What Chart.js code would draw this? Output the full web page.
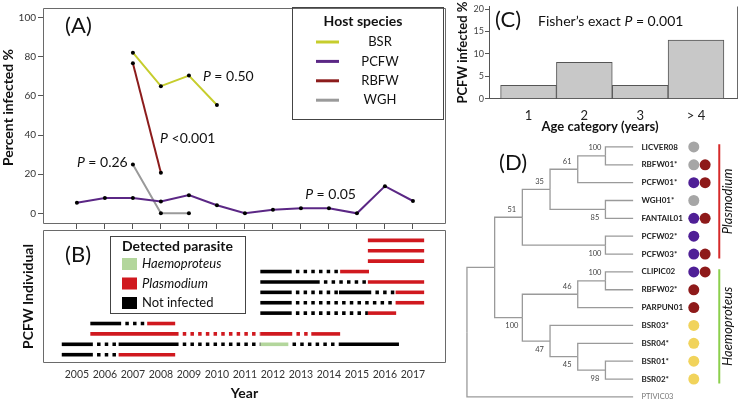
<!DOCTYPE html>
<html lang="en">
<head>
<meta charset="UTF-8">
<title>Parasite prevalence by host</title>
<script src="https://cdn.jsdelivr.net/npm/chart.js"></script>
<style>
  body { margin: 0; background: #fff; }
  #wrap { position: relative; width: 740px; height: 409px; overflow: hidden; background: #fff; }
  #wrap canvas { position: absolute; }
</style>
</head>
<body>
<div id="wrap">
  <canvas id="chartA" width="450" height="232" style="left:0;top:0"></canvas>
  <canvas id="chartB" width="450" height="183" style="left:0;top:226px"></canvas>
  <canvas id="chartC" width="285" height="135" style="left:455px;top:0"></canvas>
  <canvas id="chartD" width="285" height="274" style="left:455px;top:135px"></canvas>
</div>
<script>
// ---------- (A) percent infected per year ----------
const years = [2005, 2006, 2007, 2008, 2009, 2010, 2011, 2012, 2013, 2014, 2015, 2016, 2017];
const pcfwPct = [5.4, 7.8, 7.8, 6.1, 9.3, 4.1, 0, 1.8, 2.6, 2.6, 0, 13.9, 6.3];
const bsrYears = [2007, 2008, 2009, 2010];
const bsrPct = [82.1, 65.0, 70.4, 55.4];
const rbfwYears = [2007, 2008];
const rbfwPct = [76.7, 20.7];
const wghYears = [2007, 2008, 2009];
const wghPct = [25.0, 0, 0];
const pctTicks = [0, 20, 40, 60, 80, 100];

// ---------- (B) PCFW individuals, bottom row first: [from, to, status, sampled] ----------
const bRows = [
  [[2004.46, 2005.57, 'N', 1], [2005.57, 2006.49, 'N', 0], [2006.49, 2008.51, 'P', 1]],
  [[2004.46, 2005.57, 'N', 1], [2005.57, 2006.49, 'N', 0], [2006.49, 2008.63, 'N', 1], [2008.63, 2011.55, 'N', 0],
   [2011.55, 2012.55, 'H', 1], [2012.55, 2014.36, 'N', 0], [2014.36, 2016.5, 'N', 1]],
  [[2005.48, 2008.63, 'P', 1], [2008.63, 2011.55, 'P', 0], [2011.55, 2012.69, 'P', 1], [2012.69, 2013.37, 'P', 0], [2013.37, 2014.4, 'P', 1]],
  [[2005.48, 2006.58, 'N', 1], [2006.58, 2007.51, 'N', 0], [2007.51, 2008.51, 'P', 1]],
  [[2011.55, 2012.67, 'N', 1], [2012.67, 2015.39, 'N', 0], [2015.39, 2016.4, 'P', 1]],
  [[2011.55, 2012.67, 'N', 1], [2012.67, 2016.38, 'N', 0], [2016.38, 2017.4, 'P', 1]],
  [[2011.55, 2012.67, 'N', 1], [2012.67, 2014.36, 'N', 0], [2014.36, 2015.51, 'N', 1], [2015.51, 2016.38, 'N', 0], [2016.38, 2017.4, 'P', 1]],
  [[2011.55, 2013.67, 'N', 1], [2013.67, 2015.39, 'N', 0], [2015.39, 2017.4, 'P', 1]],
  [[2011.55, 2012.67, 'N', 1], [2012.67, 2014.4, 'N', 0], [2014.4, 2015.43, 'P', 1]],
  [[2015.39, 2017.4, 'P', 1]],
  [[2015.39, 2017.4, 'P', 1]],
  [[2015.39, 2017.4, 'P', 1]]
];
const parasiteKeys = ['H', 'P', 'N'];
const parasiteNames = ['Haemoproteus', 'Plasmodium', 'Not infected'];

// ---------- (C) infection by age ----------
const ageLabels = ['1', '2', '3', '> 4'];
const agePct = [3.0, 8.1, 3.0, 13.1];
const ageTicks = [0, 5, 10, 15, 20];

// ---------- (D) tree ----------
const leafNames = ['LICVER08', 'RBFW01*', 'PCFW01*', 'WGH01*', 'FANTAIL01', 'PCFW02*', 'PCFW03*',
  'CLIPIC02', 'RBFW02*', 'PARPUN01', 'BSR03*', 'BSR04*', 'BSR01*', 'BSR02*', 'PTIVIC03'];
const leafParent = ['S', 'S', 'R', 'T', 'T', 'U', 'U', 'W', 'W', 'V', 'X', 'Y', 'Z', 'Z', 'root'];
const leafHosts = [['WGH'], ['WGH', 'RBFW'], ['PCFW', 'RBFW'], ['WGH'], ['PCFW', 'RBFW'], ['PCFW'], ['PCFW', 'RBFW'],
  ['PCFW', 'RBFW'], ['RBFW'], ['RBFW'], ['BSR'], ['BSR'], ['BSR'], ['BSR'], []];
const nodeNames = ['root', 'A', 'P', 'Q', 'R', 'S', 'T', 'U', 'H', 'V', 'W', 'X', 'Y', 'Z'];
const nodeParent = [null, 'root', 'A', 'P', 'Q', 'R', 'Q', 'P', 'A', 'H', 'V', 'H', 'X', 'Y'];
const nodeDepth = [0, 1, 2, 3, 4, 5, 5, 5, 2, 4, 5, 3, 4, 5];
const nodeSupport = [null, null, 51, 35, 61, 100, 85, 100, 100, 46, 100, 47, 45, 98];
const cladeNames = ['Plasmodium', 'Haemoproteus'];
const cladeFirst = [0, 7];
const cladeLast = [6, 13];

// colours
const hostColA = { BSR: '#c6cd2d', PCFW: '#5b2785', RBFW: '#8c1c1c', WGH: '#9a9a9a' };
const hostColD = { BSR: '#f1d35b', PCFW: '#4f1f96', RBFW: '#8e1a1a', WGH: '#a6a6a6' };
const parasiteCol = { H: '#b3d69c', P: '#d0191f', N: '#000000' };
const cladeCol = ['#d62a2a', '#8ccf4d'];

Chart.defaults.font.family = 'Lato, "Open Sans", sans-serif';
Chart.defaults.color = '#333';
Chart.defaults.animation = false;
Chart.defaults.responsive = false;
Chart.defaults.plugins.legend.display = false;
Chart.defaults.plugins.tooltip.enabled = false;

const FF = 'Lato, "Open Sans", sans-serif';
const font = (size, style = '') => `${style} ${size}px ${FF}`;

function xy(xs, ys) { return xs.map((x, i) => ({ x: x, y: ys[i] })); }
function fixedTicks(vals) { return s => { s.ticks = vals.map(v => ({ value: v })); }; }

// draw runs of text with mixed fonts, vertically centred on y
function drawRuns(ctx, x, y, runs, align) {
  let total = 0;
  runs.forEach(r => { ctx.font = r[1]; total += ctx.measureText(r[0]).width; });
  let cx = align === 'center' ? x - total / 2 : x;
  ctx.textAlign = 'left';
  ctx.textBaseline = 'middle';
  runs.forEach(r => { ctx.font = r[1]; ctx.fillText(r[0], cx, y); cx += ctx.measureText(r[0]).width; });
}

// box round the plot area
const framePlugin = {
  id: 'frame',
  afterDatasetsDraw(chart, args, opts) {
    const { ctx, chartArea: a } = chart;
    const l = Math.round(a.left) + 0.5, r = Math.round(a.right) - 0.5;
    const t = Math.round(a.top) + 0.5, b = Math.round(a.bottom) - 0.5;
    const sides = opts.sides || 'trbl';
    ctx.save();
    ctx.strokeStyle = '#6a6a6a';
    ctx.lineWidth = 1;
    ctx.beginPath();
    if (sides.includes('t')) { ctx.moveTo(l, t); ctx.lineTo(r, t); }
    if (sides.includes('r')) { ctx.moveTo(r, t); ctx.lineTo(r, b); }
    if (sides.includes('b')) { ctx.moveTo(l, b); ctx.lineTo(r, b); }
    if (sides.includes('l')) { ctx.moveTo(l, t); ctx.lineTo(l, b); }
    ctx.stroke();
    ctx.restore();
  }
};

// ---------- chart A ----------
const notesA = {
  id: 'notesA',
  afterDraw(chart) {
    const { ctx, scales: { x, y } } = chart;
    ctx.save();
    ctx.fillStyle = '#111';
    drawRuns(ctx, x.getPixelForValue(2004.58), y.getPixelForValue(96), [['(A)', font(22)]]);
    const pNotes = [[2009.5, 70.1, ' = 0.50'], [2007.97, 38.3, ' <0.001'], [2005.0, 25.9, ' = 0.26'], [2013.15, 9.45, ' = 0.05']];
    pNotes.forEach(n => drawRuns(ctx, x.getPixelForValue(n[0]), y.getPixelForValue(n[1]),
      [['P', font(14, 'italic')], [n[2], font(14)]]));
    // axis title
    ctx.save();
    ctx.translate(8, 107.5);
    ctx.rotate(-Math.PI / 2);
    drawRuns(ctx, 0, 0, [['Percent infected %', font(14, 'bold')]], 'center');
    ctx.restore();
    // legend
    ctx.strokeStyle = '#444';
    ctx.lineWidth = 1;
    ctx.strokeRect(292.5, 7.5, 151, 112);
    drawRuns(ctx, 363, 21, [['Host species', font(14, 'bold')]], 'center');
    chart.data.datasets.forEach((ds, i) => {
      const ly = 42 + i * 19.4;
      ctx.strokeStyle = ds.borderColor;
      ctx.lineWidth = 3;
      ctx.beginPath(); ctx.moveTo(316, ly); ctx.lineTo(339, ly); ctx.stroke();
      ctx.fillStyle = '#111';
      drawRuns(ctx, 380, ly, [[ds.label, font(13)]], 'center');
    });
    ctx.restore();
  }
};

function lineSet(label, xs, ys) {
  return {
    label: label, data: xy(xs, ys), borderColor: hostColA[label], borderWidth: 2,
    pointRadius: 2, pointBackgroundColor: '#000', pointBorderColor: '#000', pointBorderWidth: 0, tension: 0
  };
}

new Chart(document.getElementById('chartA'), {
  type: 'line',
  data: {
    datasets: [
      lineSet('BSR', bsrYears, bsrPct),
      lineSet('PCFW', years, pcfwPct),
      lineSet('RBFW', rbfwYears, rbfwPct),
      lineSet('WGH', wghYears, wghPct)
    ]
  },
  options: {
    layout: { padding: { top: 2, right: 4, left: 0, bottom: 0 } },
    scales: {
      x: {
        type: 'linear', min: 2003.79, max: 2018.18,
        afterBuildTicks: fixedTicks(years),
        ticks: { display: false },
        grid: { drawOnChartArea: false, tickLength: 5, color: '#555' },
        border: { display: false },
        afterFit: s => { s.height = 8; }
      },
      y: {
        min: -5.46, max: 104.96,
        afterBuildTicks: fixedTicks(pctTicks),
        ticks: { font: { size: 10 }, color: '#333', padding: 2 },
        grid: { drawOnChartArea: false, tickLength: 5, color: '#555' },
        border: { display: false },
        afterFit: s => { s.width = 43; }
      }
    },
    plugins: { frame: {} }
  },
  plugins: [framePlugin, notesA]
});

// ---------- chart B ----------
const bSets = [];
bRows.forEach((row, i) => {
  row.forEach(seg => {
    bSets.push({
      data: [{ x: seg[0], y: i + 1 }, { x: seg[1], y: i + 1 }],
      borderColor: parasiteCol[seg[2]],
      borderWidth: 3.6,
      borderDash: seg[3] ? [] : [3.5, 4.2],
      borderDashOffset: seg[3] ? 0 : 3.5,
      borderCapStyle: 'butt',
      pointRadius: 0
    });
  });
});

const notesB = {
  id: 'notesB',
  afterDraw(chart) {
    const { ctx, scales: { x, y } } = chart;
    ctx.save();
    ctx.fillStyle = '#111';
    drawRuns(ctx, x.getPixelForValue(2004.58), y.getPixelForValue(10.59), [['(B)', font(22)]]);
    ctx.fillStyle = '#fff';
    ctx.fillRect(110.5, 10.5, 135, 77);
    ctx.strokeStyle = '#444';
    ctx.lineWidth = 1;
    ctx.strokeRect(110.5, 10.5, 135, 77);
    ctx.fillStyle = '#111';
    drawRuns(ctx, 122, 20, [['Detected parasite', font(14, 'bold')]]);
    parasiteKeys.forEach((k, i) => {
      const ly = 38 + i * 19.5;
      ctx.fillStyle = parasiteCol[k];
      ctx.fillRect(122, ly - 6, 15, 12);
      ctx.fillStyle = '#111';
      drawRuns(ctx, 142, ly, [[parasiteNames[i], font(13, k === 'N' ? '' : 'italic')]]);
    });
    ctx.restore();
  }
};

new Chart(document.getElementById('chartB'), {
  type: 'line',
  data: { datasets: bSets },
  options: {
    layout: { padding: { top: 4, right: 4, left: 0, bottom: 0 } },
    scales: {
      x: {
        type: 'linear', min: 2003.79, max: 2018.18,
        afterBuildTicks: fixedTicks(years),
        ticks: { font: { size: 10.5 }, color: '#333', padding: 5, autoSkip: false, maxRotation: 0, minRotation: 0, callback: v => String(v) },
        grid: { display: false, drawTicks: false },
        border: { display: false },
        title: { display: true, text: 'Year', font: { size: 14, weight: 'bold' }, color: '#111', padding: { top: 0, bottom: 7 } },
        afterFit: s => { s.height = 46; }
      },
      y: {
        type: 'linear', min: 0.2, max: 13,
        ticks: { display: false },
        grid: { display: false, drawTicks: false },
        border: { display: false },
        title: { display: true, text: 'PCFW Individual', font: { size: 14, weight: 'bold' }, color: '#111', padding: { top: 19.6, bottom: 0 } },
        afterFit: s => { s.width = 43; }
      }
    },
    plugins: { frame: {} }
  },
  plugins: [framePlugin, notesB]
});

// ---------- chart C ----------
const notesC = {
  id: 'notesC',
  afterDraw(chart) {
    const { ctx, scales: { x, y } } = chart;
    ctx.save();
    ctx.fillStyle = '#111';
    drawRuns(ctx, x.getPixelForValue(0.40), y.getPixelForValue(17.55), [['(C)', font(22)]]);
    drawRuns(ctx, x.getPixelForValue(1.17), y.getPixelForValue(17.2),
      [['Fisher\u2019s exact ', font(14)], ['P', font(14, 'italic')], [' = 0.001', font(14)]]);
    drawRuns(ctx, 145, 127, [['Age category (years)', font(13, 'bold')]], 'center');
    ctx.restore();
  }
};

new Chart(document.getElementById('chartC'), {
  type: 'bar',
  data: {
    datasets: [{
      data: ageLabels.map((l, i) => ({ x: i + 1, y: agePct[i] })),
      backgroundColor: '#c8c8c8', borderColor: '#555', borderWidth: 1,
      barPercentage: 1, categoryPercentage: 1
    }]
  },
  options: {
    layout: { padding: { top: 4, right: 2.3, left: 0, bottom: 0 } },
    scales: {
      x: {
        type: 'linear', min: 0.292, max: 4.747, offset: false,
        afterBuildTicks: fixedTicks([1, 2, 3, 4]),
        ticks: { font: { size: 13 }, color: '#222', padding: 9, callback: v => ageLabels[v - 1] },
        grid: { display: false, drawTicks: false },
        border: { display: true, color: '#555' },
        afterFit: s => { s.height = 36.3; }
      },
      y: {
        min: 0, max: 20.6,
        afterBuildTicks: fixedTicks(ageTicks),
        ticks: { font: { size: 9 }, color: '#444', padding: 1 },
        grid: { drawOnChartArea: false, tickLength: 4, color: '#555' },
        border: { display: true, color: '#555' },
        title: { display: true, text: 'PCFW infected %', font: { size: 13, weight: 'bold' }, color: '#111', padding: { top: 0, bottom: 0 } },
        afterFit: s => { s.width = 34; }
      }
    },
    plugins: { frame: { sides: 'r' } }
  },
  plugins: [framePlugin, notesC]
});

// ---------- chart D ----------
const leafDepth = 6;
const nodeY = {};
function yOf(name) {
  if (nodeY[name] !== undefined) return nodeY[name];
  const ys = [];
  leafNames.forEach((l, i) => { if (leafParent[i] === name) ys.push(i); });
  nodeNames.forEach((n, i) => { if (nodeParent[i] === name) ys.push(yOf(n)); });
  nodeY[name] = (Math.min(...ys) + Math.max(...ys)) / 2;
  return nodeY[name];
}
const depthOf = n => nodeDepth[nodeNames.indexOf(n)];
nodeNames.forEach(yOf);

const branchSets = [];
function elbow(parent, cx, cy) {
  const px = depthOf(parent), py = nodeY[parent];
  branchSets.push({
    data: [{ x: px, y: py }, { x: px, y: cy }, { x: cx, y: cy }],
    showLine: true, borderColor: '#9a9a9a', borderWidth: 1.3, pointRadius: 0
  });
}
nodeNames.forEach((n, i) => { if (nodeParent[i]) elbow(nodeParent[i], nodeDepth[i], nodeY[n]); });
leafNames.forEach((l, i) => elbow(leafParent[i], leafDepth, i));

const circleCols = [8.19, 8.6];
const circlePts = [], circleFill = [];
leafHosts.forEach((hs, i) => hs.forEach((h, j) => {
  circlePts.push({ x: circleCols[j], y: i });
  circleFill.push(hostColD[h]);
}));

const cladeX = 9.11;
const cladeSets = cladeNames.map((c, i) => ({
  data: [{ x: cladeX, y: cladeFirst[i] - 0.15 }, { x: cladeX, y: cladeLast[i] + 0.25 }],
  showLine: true, borderColor: cladeCol[i], borderWidth: 2, pointRadius: 0
}));

const notesD = {
  id: 'notesD',
  afterDraw(chart) {
    const { ctx, scales: { x, y } } = chart;
    ctx.save();
    ctx.fillStyle = '#111';
    drawRuns(ctx, x.getPixelForValue(1.16), y.getPixelForValue(0.88), [['(D)', font(22)]]);
    leafNames.forEach((l, i) => {
      const outgroup = leafParent[i] === 'root';
      ctx.fillStyle = outgroup ? '#777' : '#222';
      drawRuns(ctx, x.getPixelForValue(leafDepth + 0.3), y.getPixelForValue(i),
        [[l, outgroup ? font(7.5) : font(8, 'bold')]]);
    });
    ctx.fillStyle = '#444';
    nodeNames.forEach((n, i) => {
      if (nodeSupport[i] === null) return;
      const above = nodeY[n] < nodeY[nodeParent[i]];
      drawRuns(ctx, x.getPixelForValue(nodeDepth[i] - 0.38), y.getPixelForValue(nodeY[n] + (above ? -0.45 : 0.45)),
        [[String(nodeSupport[i]), font(7.5)]], 'center');
    });
    ctx.fillStyle = '#111';
    cladeNames.forEach((c, i) => {
      ctx.save();
      ctx.translate(x.getPixelForValue(9.42), y.getPixelForValue((cladeFirst[i] - 0.15 + cladeLast[i] + 0.25) / 2));
      ctx.rotate(-Math.PI / 2);
      drawRuns(ctx, 0, 0, [[c, font(13, 'italic')]], 'center');
      ctx.restore();
    });
    ctx.restore();
  }
};

new Chart(document.getElementById('chartD'), {
  type: 'scatter',
  data: {
    datasets: branchSets.concat(cladeSets, [{
      data: circlePts, pointRadius: 5.5, pointBackgroundColor: circleFill,
      pointBorderWidth: 0, showLine: false
    }])
  },
  options: {
    layout: { padding: 0 },
    scales: {
      x: { type: 'linear', min: -0.233, max: 9.66, display: false },
      y: { type: 'linear', min: -0.36, max: 14.37, reverse: true, display: false }
    }
  },
  plugins: [notesD]
});
</script>
</body>
</html>
